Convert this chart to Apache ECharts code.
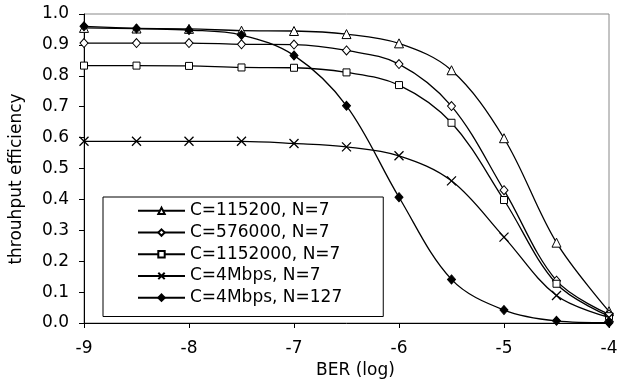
<!DOCTYPE html>
<html>
<head>
<meta charset="utf-8">
<script src="https://cdn.jsdelivr.net/npm/echarts@6/dist/echarts.min.js"></script>
<style>
html,body{margin:0;padding:0;background:#fff;}
#c{width:618px;height:380px;}
</style>
</head>
<body>
<div id="c"></div>
<script>
var berLog = [-9, -8.5, -8, -7.5, -7, -6.5, -6, -5.5, -5, -4.5, -4];
var names = ['C=115200, N=7', 'C=576000, N=7', 'C=1152000, N=7', 'C=4Mbps, N=7', 'C=4Mbps, N=127'];
var effC115200 = [0.955, 0.953, 0.952, 0.946, 0.945, 0.935, 0.905, 0.818, 0.598, 0.260, 0.038];
var effC576000 = [0.906, 0.906, 0.906, 0.902, 0.901, 0.882, 0.838, 0.702, 0.430, 0.137, 0.028];
var effC1152000 = [0.833, 0.833, 0.832, 0.827, 0.826, 0.811, 0.770, 0.648, 0.398, 0.127, 0.022];
var effC4M7 = [0.588, 0.588, 0.588, 0.588, 0.581, 0.570, 0.541, 0.460, 0.278, 0.089, 0.018];
var effC4M127 = [0.960, 0.953, 0.948, 0.932, 0.866, 0.703, 0.407, 0.141, 0.042, 0.007, 0.001];
var yTicks = ['0.0','0.1','0.2','0.3','0.4','0.5','0.6','0.7','0.8','0.9','1.0'];
var xTicks = ['-9','-8','-7','-6','-5','-4'];

var FONT = 'DejaVu Sans';
function pairs(ys){ return berLog.map(function(x,i){ return [x, ys[i]]; }); }

var markers = [
  {symbol:'triangle', size:9, fill:'#fff', bw:1},
  {symbol:'diamond', size:[8,9], fill:'#fff', bw:1},
  {symbol:'rect', size:7, fill:'#fff', bw:1},
  {symbol:'path://M0,0L10,10M0,10L10,0', size:9, fill:'none', bw:1.3},
  {symbol:'diamond', size:[8,9], fill:'#000', bw:1}
];
var allData = [effC115200, effC576000, effC1152000, effC4M7, effC4M127];

var series = allData.map(function(d, i){
  var m = markers[i];
  return {
    name: names[i],
    type: 'line',
    data: pairs(d),
    smooth: 0.35,
    symbol: m.symbol,
    symbolSize: m.size,
    showAllSymbol: true,
    lineStyle: {color:'#000', width:1.3},
    itemStyle: {color: m.fill, borderColor:'#000', borderWidth: m.bw},
    emphasis: {disabled:true},
    z: 2 + i
  };
});

var chart = echarts.init(document.getElementById('c'), null, {renderer:'canvas'});
chart.setOption({
  animation: false,
  backgroundColor: '#fff',
  textStyle: {fontFamily: FONT},
  grid: {left:84, right:9, top:14, bottom:57, containLabel:false, outerBoundsMode:'none',
    show:true, borderColor:'#888', borderWidth:1, backgroundColor:'transparent'},
  xAxis: {
    type:'value', min:-9, max:-4, interval:1,
    name:'BER (log)', nameLocation:'middle', nameGap:37,
    nameTextStyle:{fontFamily:FONT, fontSize:17, color:'#000', padding:[0,0,0,18]},
    axisLine:{show:true, onZero:false, lineStyle:{color:'#000', width:1}},
    axisTick:{show:true, inside:false, length:5, lineStyle:{color:'#000'}},
    axisLabel:{margin:17, fontFamily:FONT, fontSize:17, color:'#000',
      formatter:function(v){ var s = xTicks[Math.round(v+9)]; return s===undefined? '' : s; }},
    splitLine:{show:false}
  },
  yAxis: {
    type:'value', min:0, max:1, interval:0.1,
    axisLine:{show:true, onZero:false, lineStyle:{color:'#000', width:1}},
    axisTick:{show:true, inside:false, length:5, lineStyle:{color:'#000'}},
    axisLabel:{margin:15, fontFamily:FONT, fontSize:17, color:'#000',
      formatter:function(v){ return yTicks[Math.round(v*10)]; }},
    splitLine:{show:false}
  },
  legend: {
    orient:'vertical', left:103, top:197,
    padding:[3,41,8,34],
    itemWidth:47, itemHeight:8, itemGap:0,
    backgroundColor:'#fff', borderColor:'#000', borderWidth:1,
    textStyle:{fontFamily:FONT, fontSize:17, color:'#000', lineHeight:21.7},
    data: names
  },
  graphic: [{
    type:'text', x:17, y:179, rotation:Math.PI/2,
    style:{text:'throuhput efficiency', fontFamily:FONT, fontSize:17, fill:'#000', align:'center', verticalAlign:'middle'}
  }],
  series: series
});
</script>
</body>
</html>
